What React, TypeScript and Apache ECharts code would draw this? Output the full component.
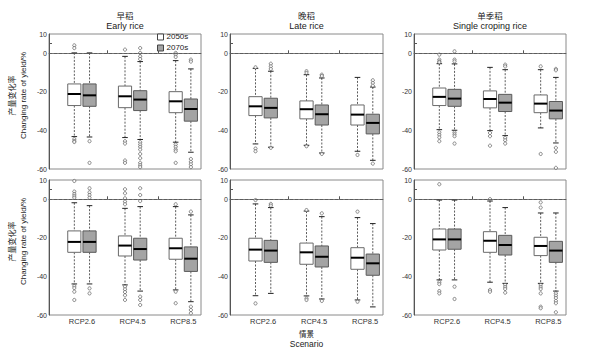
import React, { useEffect, useRef } from 'react';
import * as echarts from 'echarts';

// ---------- categories & labels ----------
const scenarios = ['RCP2.6', 'RCP4.5', 'RCP8.5'];
const periods = ['2050s', '2070s'];
const cropTitlesZh = ['早稻', '晚稻', '单季稻'];
const cropTitlesEn = ['Early rice', 'Late rice', 'Single croping rice'];
const yTickLabels = [10, 0, -20, -40, -60];

// ---------- box statistics: [lower whisker, Q1, median, Q3, upper whisker] per scenario ----------
// top row
const earlyTop2050s = [
  [-43.2, -27.1, -21.1, -15.9, 0.2],
  [-43.7, -28.2, -22.3, -17.0, -1.6],
  [-46.1, -30.8, -24.9, -19.9, -3.8],
];
const earlyTop2070s = [
  [-43.4, -27.5, -21.8, -15.9, 0.2],
  [-44.7, -29.7, -24.0, -19.4, -4.3],
  [-51.3, -35.2, -28.9, -23.7, -8.1],
];
const lateTop2050s = [
  [-47.0, -32.3, -27.5, -22.5, -7.8],
  [-47.7, -34.0, -29.0, -24.7, -11.1],
  [-50.8, -37.2, -31.8, -26.8, -12.5],
];
const lateTop2070s = [
  [-48.7, -33.5, -28.3, -23.3, -9.3],
  [-51.7, -37.2, -31.6, -26.8, -12.8],
  [-55.5, -41.8, -36.1, -31.6, -17.5],
];
const singleTop2050s = [
  [-39.6, -27.1, -22.6, -18.0, -5.4],
  [-40.1, -28.3, -23.7, -19.5, -7.3],
  [-38.7, -30.8, -26.1, -21.6, -8.5],
];
const singleTop2070s = [
  [-39.9, -27.5, -23.5, -18.7, -5.5],
  [-42.7, -30.2, -25.6, -21.3, -8.5],
  [-46.5, -34.0, -29.7, -25.0, -12.5],
];
// bottom row
const earlyBottom2050s = [
  [-43.9, -27.5, -22.1, -16.4, -1.8],
  [-44.4, -29.4, -24.0, -19.0, -4.7],
  [-47.0, -31.1, -25.4, -20.2, -3.8],
];
const earlyBottom2070s = [
  [-43.9, -27.5, -22.1, -16.4, -3.3],
  [-47.6, -31.5, -25.8, -20.2, -3.8],
  [-53.1, -37.4, -30.8, -24.7, -8.1],
];
const lateBottom2050s = [
  [-50.0, -32.0, -26.1, -20.2, -2.4],
  [-50.1, -33.7, -27.5, -22.7, -6.1],
  [-52.2, -36.3, -30.3, -25.1, -9.5],
];
const lateBottom2070s = [
  [-48.8, -32.7, -26.6, -21.3, -4.3],
  [-51.7, -35.1, -29.8, -24.2, -9.0],
  [-55.8, -39.4, -33.2, -28.4, -12.6],
];
const singleBottom2050s = [
  [-41.8, -26.3, -20.8, -15.4, -0.4],
  [-43.0, -27.5, -21.5, -16.8, -0.9],
  [-43.6, -29.2, -24.2, -19.7, -7.1],
];
const singleBottom2070s = [
  [-41.8, -25.9, -20.8, -15.4, -0.4],
  [-43.6, -28.9, -23.7, -18.7, -4.3],
  [-47.6, -32.7, -26.6, -21.8, -7.1],
];

// ---------- outliers per scenario ----------
const earlyTop2050sOut = [
  [4.1, 2.7, -44.5, -45.5, -46.0],
  [1.9, -45.6, -46.8, -55.6, -56.8],
  [0.2, -0.7, -1.9, -47.3, -48.5, -49.9, -50.8, -56.8],
];
const earlyTop2070sOut = [
  [-45.6, -56.8],
  [2.7, 0.2, -1.6, -3.0, -46.1, -47.3, -48.5, -49.9, -52.2, -54.4, -56.8, -58.0, -59.0],
  [-3.3, -4.3, -54.8, -56.3, -57.6, -59.0],
];
const lateTop2050sOut = [
  [-7.3, -49.4, -50.8],
  [-9.3, -10.2, -48.2],
  [-52.7],
];
const lateTop2070sOut = [
  [-5.4, -6.8, -8.1, -49.0],
  [-11.1, -11.8, -52.2],
  [-14.0, -15.4, -16.8, -57.2],
];
const singleTop2050sOut = [
  [-0.7, -3.3, -4.2, -4.7, -41.0, -42.3, -43.6, -45.6],
  [-41.3, -43.0, -47.9],
  [-6.8, -52.2],
];
const singleTop2070sOut = [
  [1.0, -3.3, -4.2, -41.0, -42.0, -43.0, -46.8],
  [-5.9, -6.8, -43.9, -45.1, -46.8],
  [-8.1, -8.8, -49.0, -51.1, -59.4],
];
const earlyBottom2050sOut = [
  [9.5, 4.0, 2.7, 1.7, 0.8, -45.0, -46.0, -47.9, -52.2],
  [5.2, 3.1, 0.5, -1.2, -2.6, -45.3, -46.7, -48.1, -49.8, -52.2],
  [-2.6, -47.9, -53.9],
];
const earlyBottom2070sOut = [
  [5.7, 3.6, 2.2, 0.8, -46.2, -48.8],
  [5.7, 2.2, -0.9, -50.5, -52.2, -54.8],
  [-6.4, -55.7, -57.4, -59.1],
];
const lateBottom2050sOut = [
  [-0.4, -54.0],
  [-5.6, -51.4, -52.2],
  [-6.4, -53.1],
];
const lateBottom2070sOut = [
  [-2.4, -3.3],
  [-7.3, -52.7],
  [],
];
const singleBottom2050sOut = [
  [7.8, -43.0, -44.0, -47.6, -48.8],
  [0.1, -47.0, -47.9],
  [-1.6, -4.3, -44.4, -45.5, -46.5, -48.8, -55.7, -56.5],
];
const singleBottom2070sOut = [
  [-45.3, -51.7],
  [-44.4, -45.5, -46.5, -48.4],
  [-48.8, -50.0, -51.2, -52.7, -53.9, -58.6],
];

// panels in reading order: [2050s stats, 2070s stats, 2050s outliers, 2070s outliers]
const panels = [
  [earlyTop2050s, earlyTop2070s, earlyTop2050sOut, earlyTop2070sOut],
  [lateTop2050s, lateTop2070s, lateTop2050sOut, lateTop2070sOut],
  [singleTop2050s, singleTop2070s, singleTop2050sOut, singleTop2070sOut],
  [earlyBottom2050s, earlyBottom2070s, earlyBottom2050sOut, earlyBottom2070sOut],
  [lateBottom2050s, lateBottom2070s, lateBottom2050sOut, lateBottom2070sOut],
  [singleBottom2050s, singleBottom2070s, singleBottom2050sOut, singleBottom2070sOut],
];

// ---------- layout / style ----------
const GRID_LEFTS = [49, 230, 414];
const GRID_WIDTHS = [152, 153, 152];
const ROW_TOPS = [34, 180];
const GRID_H = 135;
const OFFSETS = [-0.15, 0.15];
const BOX_W = 0.26;
const CAP_W = 0.11;
const FILLS = ['#ffffff', '#a4a4a4'];
const BORDERS = ['#6a6a6a', '#5a5a5a'];
const FONT = '"Liberation Sans", Arial, "Noto Sans CJK SC", sans-serif';
const CJK = '"Noto Sans CJK SC", sans-serif';

const makeRender = (fill: string, border: string) => (params: any, api: any) => {
  const x = api.value(0);
  const lo = api.value(1), q1 = api.value(2), md = api.value(3), q3 = api.value(4), hi = api.value(5);
  const pHi = api.coord([x, hi]);
  const pQ3 = api.coord([x, q3]);
  const pMd = api.coord([x, md]);
  const pQ1 = api.coord([x, q1]);
  const pLo = api.coord([x, lo]);
  const bw = api.size([BOX_W, 0])[0];
  const cw = api.size([CAP_W, 0])[0];
  const cx = pMd[0];
  const whisk = { stroke: '#333', lineWidth: 0.8, lineDash: [2, 1.5] };
  const cap = { stroke: '#222', lineWidth: 1 };
  return {
    type: 'group',
    children: [
      { type: 'line', shape: { x1: cx, y1: pHi[1], x2: cx, y2: pQ3[1] }, style: whisk },
      { type: 'line', shape: { x1: cx, y1: pQ1[1], x2: cx, y2: pLo[1] }, style: whisk },
      { type: 'line', shape: { x1: cx - cw / 2, y1: pHi[1], x2: cx + cw / 2, y2: pHi[1] }, style: cap },
      { type: 'line', shape: { x1: cx - cw / 2, y1: pLo[1], x2: cx + cw / 2, y2: pLo[1] }, style: cap },
      {
        type: 'rect',
        shape: { x: cx - bw / 2, y: pQ3[1], width: bw, height: pQ1[1] - pQ3[1] },
        style: { fill, stroke: border, lineWidth: 1 },
      },
      { type: 'line', shape: { x1: cx - bw / 2, y1: pMd[1], x2: cx + bw / 2, y2: pMd[1] }, style: { stroke: '#000', lineWidth: 2 } },
    ],
  };
};

export default function App() {
  const ref = useRef<HTMLDivElement>(null);
  useEffect(() => {
    document.body.style.margin = '0';
    const chart = echarts.init(ref.current!, undefined, { renderer: 'svg' });

    const grid: any[] = [];
    const xAxis: any[] = [];
    const yAxis: any[] = [];
    const series: any[] = [];

    panels.forEach((panel, p) => {
      const r = Math.floor(p / 3);
      const c = p % 3;
      grid.push({
        left: GRID_LEFTS[c], top: ROW_TOPS[r], width: GRID_WIDTHS[c], height: GRID_H,
        show: true, borderColor: '#8a8a8a', borderWidth: 1, backgroundColor: 'transparent',
      });
      xAxis.push({
        gridIndex: p, type: 'value', min: 0.35, max: 3.35,
        axisLine: { show: true, lineStyle: { color: '#777', width: 1 } },
        axisTick: { show: true, customValues: [1.5, 2.5], inside: true, length: 3, lineStyle: { color: '#555' } },
        axisLabel: {
          show: r === 1, customValues: [1, 2, 3],
          formatter: (v: number) => scenarios[Math.round(v) - 1] ?? '',
          fontSize: 7.5, color: '#333', margin: 3, fontFamily: FONT,
        },
        splitLine: { show: false },
      });
      yAxis.push({
        gridIndex: p, type: 'value', min: -60, max: 10,
        axisLine: { show: true, lineStyle: { color: '#555', width: 1 } },
        axisTick: { show: true, customValues: [5], inside: true, length: 3, lineStyle: { color: '#555' } },
        axisLabel: { customValues: yTickLabels, fontSize: 7, color: '#333', margin: 2, fontFamily: FONT },
        splitLine: { show: false },
      });
      [0, 1].forEach((k) => {
        const stats = panel[k] as number[][];
        const outs = panel[k + 2] as number[][];
        series.push({
          type: 'custom', name: periods[k], xAxisIndex: p, yAxisIndex: p,
          renderItem: makeRender(FILLS[k], BORDERS[k]),
          itemStyle: { color: FILLS[k], borderColor: '#444', borderWidth: 1 },
          encode: { x: 0, y: [1, 2, 3, 4, 5] },
          data: stats.map((s, i) => [i + 1 + OFFSETS[k], ...s]),
          z: 3,
          markLine: k === 0 ? {
            silent: true, symbol: ['none', 'none'], label: { show: false },
            lineStyle: { type: [3, 2], color: '#555', width: 0.8 },
            emphasis: { disabled: true },
            data: [{ yAxis: 0 }],
          } : undefined,
        });
        const pts: number[][] = [];
        outs.forEach((list, i) => list.forEach((v) => pts.push([i + 1 + OFFSETS[k], v])));
        series.push({
          type: 'scatter', name: periods[k] + ' outliers', xAxisIndex: p, yAxisIndex: p,
          symbol: 'circle', symbolSize: 3.2,
          itemStyle: { color: '#fff', borderColor: '#333', borderWidth: 0.7 },
          data: pts, z: 4, silent: true,
        });
      });
    });

    const graphic: any[] = [];
    [0, 1, 2].forEach((c) => {
      const cx = GRID_LEFTS[c] + GRID_WIDTHS[c] / 2;
      graphic.push({ type: 'text', x: cx, y: 15, style: { text: cropTitlesZh[c], fontSize: 8.5, fontFamily: CJK, fill: '#222', align: 'center', verticalAlign: 'middle' } });
      graphic.push({ type: 'text', x: cx, y: 26, style: { text: cropTitlesEn[c], fontSize: 9, fontFamily: FONT, fill: '#222', align: 'center', verticalAlign: 'middle' } });
    });
    [0, 1].forEach((r) => {
      const cy = ROW_TOPS[r] + GRID_H / 2 - 6;
      graphic.push({ type: 'text', x: 11, y: cy, rotation: Math.PI / 2, style: { text: '产量变化率', fontSize: 8, fontFamily: CJK, fill: '#222', align: 'center', verticalAlign: 'middle' } });
      graphic.push({ type: 'text', x: 23.5, y: cy, rotation: Math.PI / 2, style: { text: 'Changing rate of yield/%', fontSize: 8, fontFamily: FONT, fill: '#222', align: 'center', verticalAlign: 'middle' } });
    });
    const midX = GRID_LEFTS[1] + GRID_WIDTHS[1] / 2;
    graphic.push({ type: 'text', x: midX, y: 333, style: { text: '情景', fontSize: 7.5, fontFamily: CJK, fill: '#222', align: 'center', verticalAlign: 'middle' } });
    graphic.push({ type: 'text', x: midX, y: 344, style: { text: 'Scenario', fontSize: 8.5, fontFamily: FONT, fill: '#222', align: 'center', verticalAlign: 'middle' } });

    chart.setOption({
      animation: false,
      textStyle: { fontFamily: FONT },
      grid, xAxis, yAxis, series, graphic,
      legend: {
        selectedMode: false, orient: 'vertical', left: 157, top: 33, padding: 0,
        itemWidth: 6, itemHeight: 6, itemGap: 3,
        textStyle: { fontSize: 8, color: '#222', fontFamily: FONT, padding: [0, 0, 0, -2] },
        data: [
          { name: periods[0], icon: 'rect', itemStyle: { color: FILLS[0], borderColor: '#444', borderWidth: 1 } },
          { name: periods[1], icon: 'rect', itemStyle: { color: FILLS[1], borderColor: '#444', borderWidth: 1 } },
        ],
      },
    });
    return () => chart.dispose();
  }, []);
  return <div ref={ref} style={{ width: 607, height: 359 }} />;
}
